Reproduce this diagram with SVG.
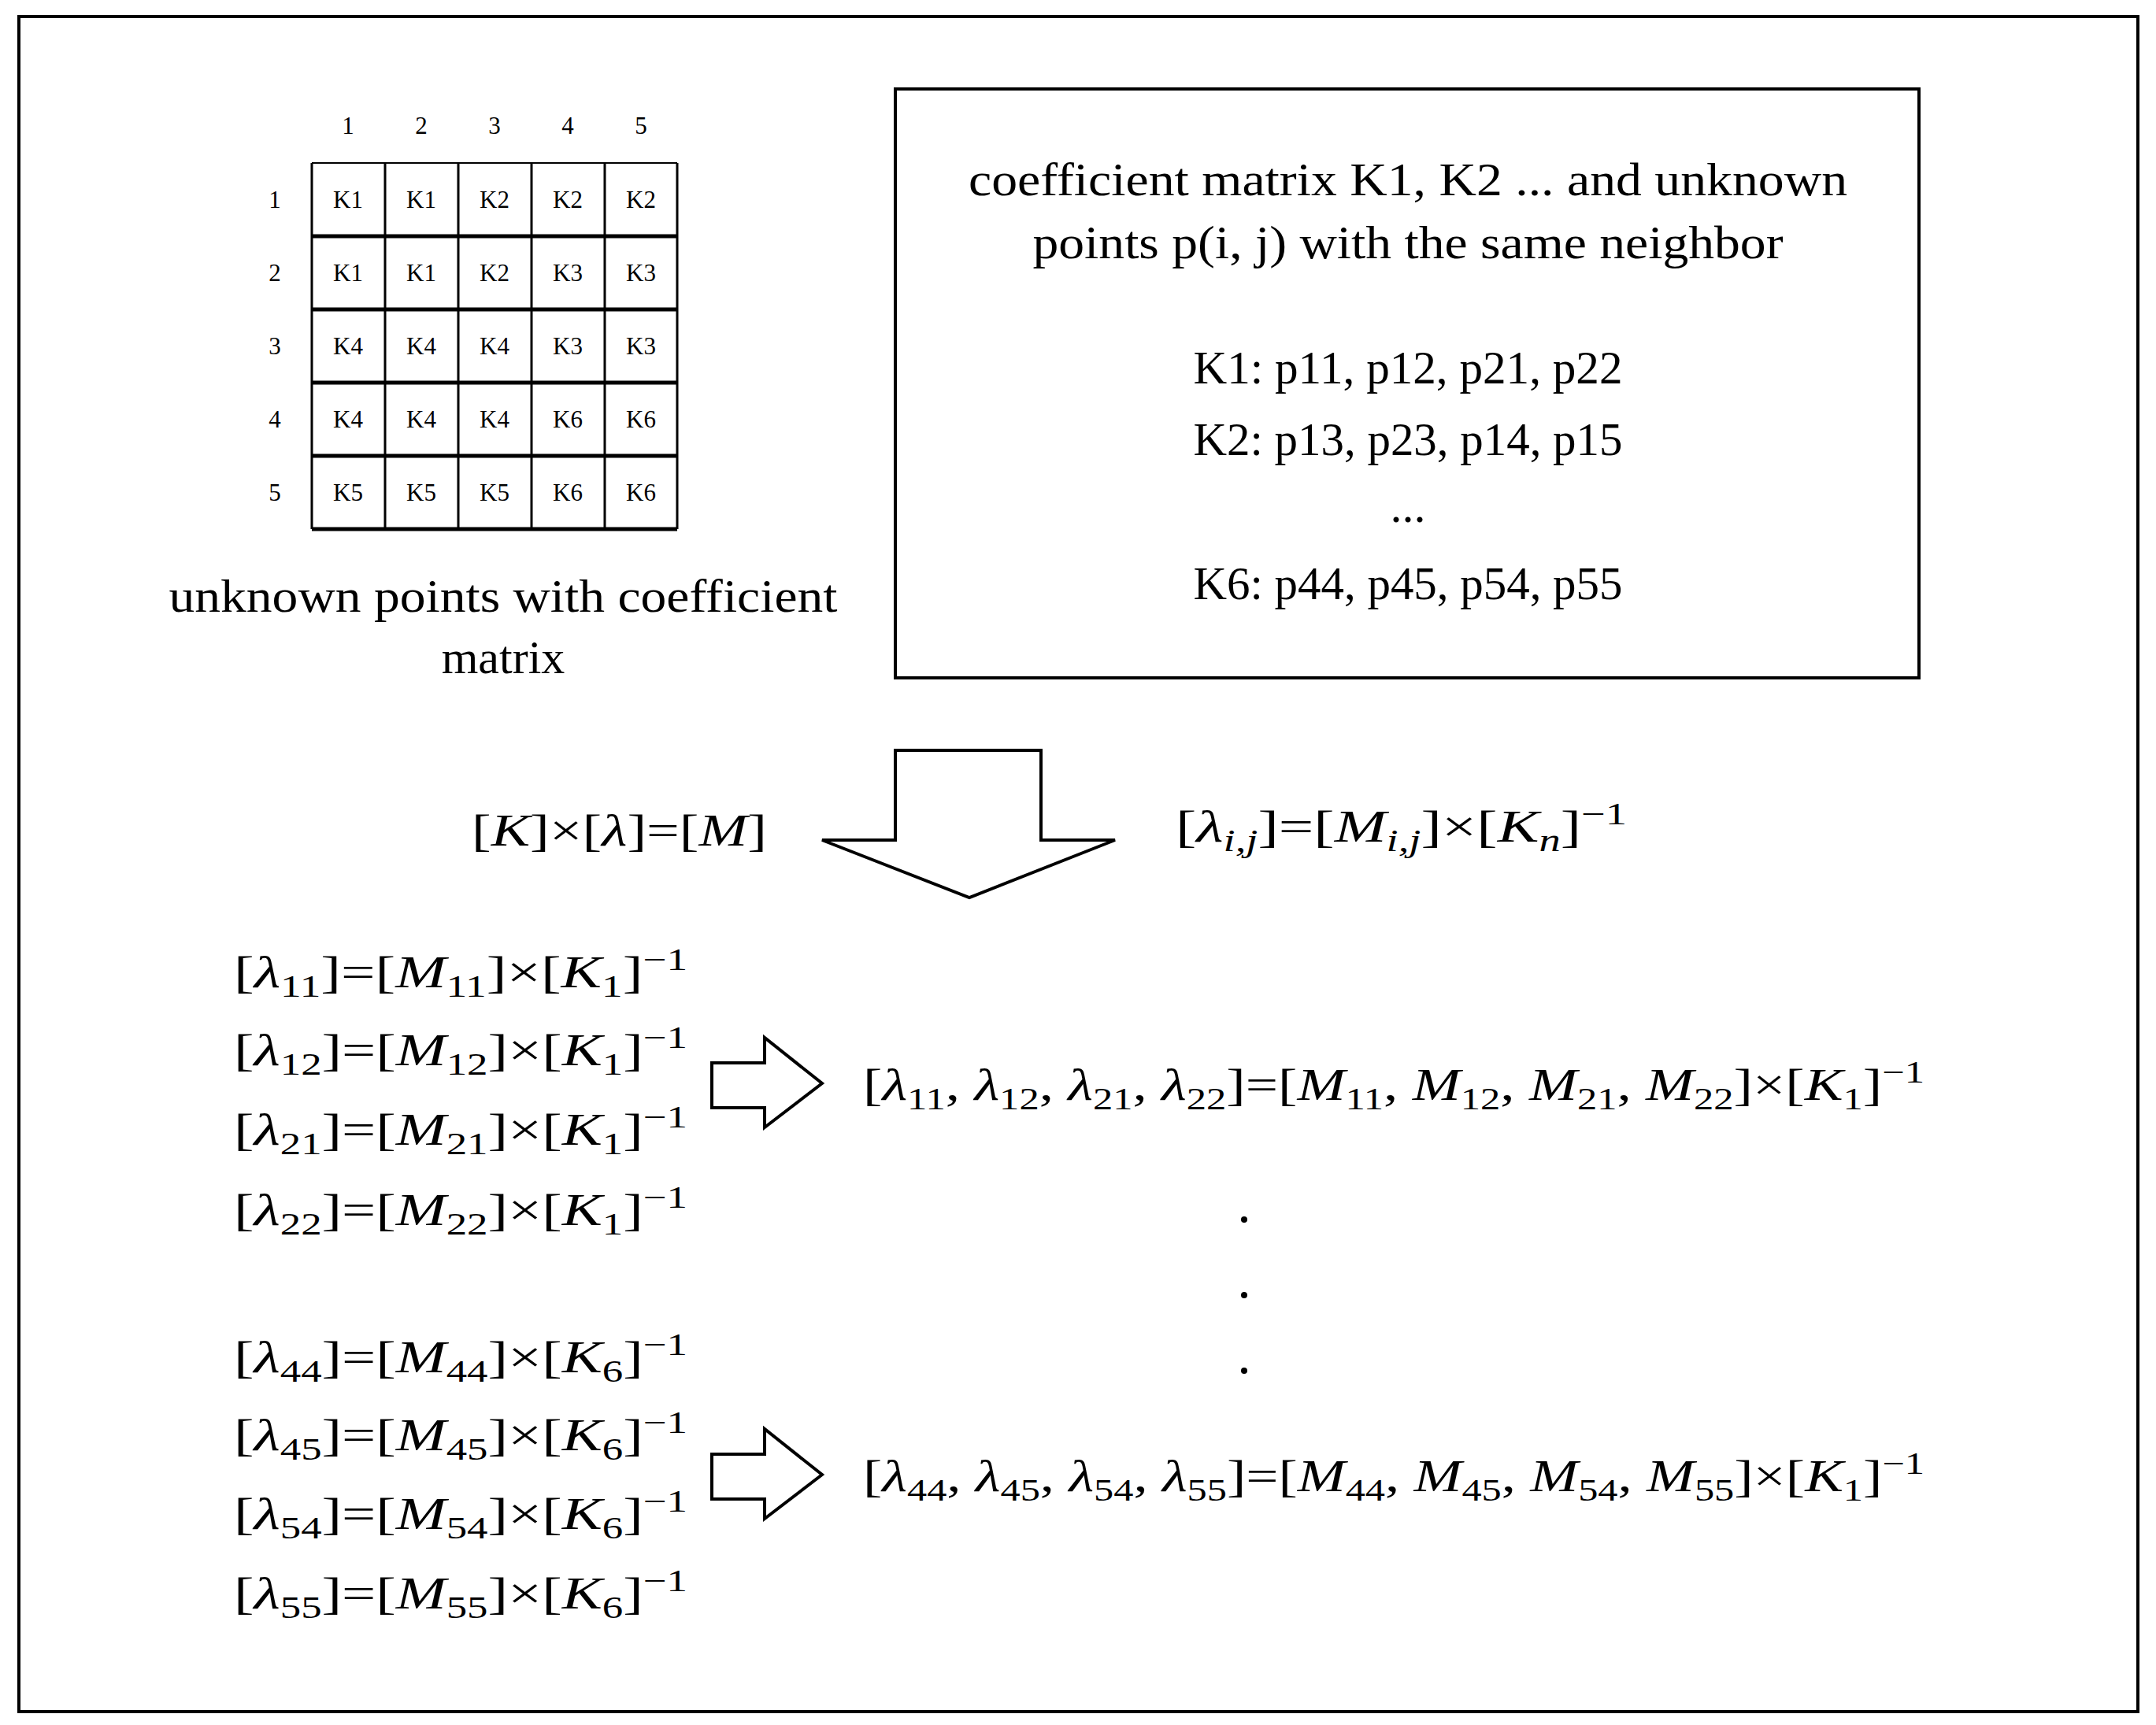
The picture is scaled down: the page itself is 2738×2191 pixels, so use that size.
<svg xmlns="http://www.w3.org/2000/svg" width="2738" height="2191" viewBox="0 0 2738 2191">
<style>
text{font-family:"Liberation Serif",serif;fill:#000}
.g{font-size:31px;text-anchor:middle}
.t{font-size:60px;text-anchor:middle}
.m{font-size:58px}
.i{font-style:italic}
.s{font-size:40px}
.ln{stroke:#000;fill:none}
</style>
<rect x="24" y="21" width="2691" height="2153" fill="#fff" stroke="#000" stroke-width="4"/>
<g id="grid">
<g class="ln" stroke-width="3">
<line x1="396" y1="207" x2="396" y2="672"/><line x1="489" y1="207" x2="489" y2="672"/><line x1="582" y1="207" x2="582" y2="672"/><line x1="675" y1="207" x2="675" y2="672"/><line x1="768" y1="207" x2="768" y2="672"/><line x1="860" y1="207" x2="860" y2="672"/>
<line x1="396" y1="207" x2="860" y2="207" stroke-width="2"/>
</g>
<g class="ln" stroke-width="5">
<line x1="396" y1="300" x2="860" y2="300"/><line x1="396" y1="393" x2="860" y2="393"/><line x1="396" y1="486" x2="860" y2="486"/><line x1="396" y1="579" x2="860" y2="579"/><line x1="396" y1="672" x2="860" y2="672"/>
</g>
<text class="g" x="442" y="170">1</text><text class="g" x="535" y="170">2</text><text class="g" x="628" y="170">3</text><text class="g" x="721" y="170">4</text><text class="g" x="814" y="170">5</text>
<text class="g" x="349" y="264">1</text><text class="g" x="349" y="357">2</text><text class="g" x="349" y="450">3</text><text class="g" x="349" y="543">4</text><text class="g" x="349" y="636">5</text>
<text class="g" x="442" y="264">K1</text><text class="g" x="535" y="264">K1</text><text class="g" x="628" y="264">K2</text><text class="g" x="721" y="264">K2</text><text class="g" x="814" y="264">K2</text>
<text class="g" x="442" y="357">K1</text><text class="g" x="535" y="357">K1</text><text class="g" x="628" y="357">K2</text><text class="g" x="721" y="357">K3</text><text class="g" x="814" y="357">K3</text>
<text class="g" x="442" y="450">K4</text><text class="g" x="535" y="450">K4</text><text class="g" x="628" y="450">K4</text><text class="g" x="721" y="450">K3</text><text class="g" x="814" y="450">K3</text>
<text class="g" x="442" y="543">K4</text><text class="g" x="535" y="543">K4</text><text class="g" x="628" y="543">K4</text><text class="g" x="721" y="543">K6</text><text class="g" x="814" y="543">K6</text>
<text class="g" x="442" y="636">K5</text><text class="g" x="535" y="636">K5</text><text class="g" x="628" y="636">K5</text><text class="g" x="721" y="636">K6</text><text class="g" x="814" y="636">K6</text>
<text class="t" x="639" y="777" textLength="849" lengthAdjust="spacingAndGlyphs">unknown points with coefficient</text>
<text class="t" x="639" y="855">matrix</text>
</g>
<g id="box">
<rect x="1137" y="113" width="1300" height="748" fill="none" stroke="#000" stroke-width="4"/>
<text class="t" x="1788" y="248" textLength="1116" lengthAdjust="spacingAndGlyphs">coefficient matrix K1, K2 ... and unknown</text>
<text class="t" x="1788" y="328" textLength="953" lengthAdjust="spacingAndGlyphs">points p(i, j) with the same neighbor</text>
<text class="t" x="1788" y="487" textLength="545" lengthAdjust="spacingAndGlyphs">K1: p11, p12, p21, p22</text>
<text class="t" x="1788" y="578" textLength="545" lengthAdjust="spacingAndGlyphs">K2: p13, p23, p14, p15</text>
<text class="t" x="1788" y="663">...</text>
<text class="t" x="1788" y="761" textLength="545" lengthAdjust="spacingAndGlyphs">K6: p44, p45, p54, p55</text>
</g>
<g id="connectors" fill="#fff" stroke="#000" stroke-width="4" stroke-linejoin="miter">
<polygon points="1137,953 1322,953 1322,1067 1416,1067 1231,1140 1044,1067 1137,1067"/>
<polygon points="904,1350 971,1350 971,1318 1044,1376 971,1432 971,1407 904,1407"/>
<polygon points="904,1847 971,1847 971,1815 1044,1873 971,1929 971,1904 904,1904"/>
</g>
<g id="equations">
<text class="m" x="599" y="1074" textLength="375" lengthAdjust="spacingAndGlyphs">[<tspan class="i">K</tspan>]×[<tspan class="i">λ</tspan>]=[<tspan class="i">M</tspan>]</text>
<text class="m" x="1493" y="1069" textLength="573" lengthAdjust="spacingAndGlyphs">[<tspan class="i">λ</tspan><tspan class="s i" dy="12">i,j</tspan><tspan dy="-12">]=[</tspan><tspan class="i">M</tspan><tspan class="s i" dy="12">i,j</tspan><tspan dy="-12">]×[</tspan><tspan class="i">K</tspan><tspan class="s i" dy="12">n</tspan><tspan dy="-12">]</tspan><tspan class="s" dy="-22">−1</tspan></text>

<text class="m" x="297" y="1254" textLength="576" lengthAdjust="spacingAndGlyphs">[<tspan class="i">λ</tspan><tspan class="s" dy="12">11</tspan><tspan dy="-12">]=[</tspan><tspan class="i">M</tspan><tspan class="s" dy="12">11</tspan><tspan dy="-12">]×[</tspan><tspan class="i">K</tspan><tspan class="s" dy="12">1</tspan><tspan dy="-12">]</tspan><tspan class="s" dy="-22">−1</tspan></text>
<text class="m" x="297" y="1353" textLength="576" lengthAdjust="spacingAndGlyphs">[<tspan class="i">λ</tspan><tspan class="s" dy="12">12</tspan><tspan dy="-12">]=[</tspan><tspan class="i">M</tspan><tspan class="s" dy="12">12</tspan><tspan dy="-12">]×[</tspan><tspan class="i">K</tspan><tspan class="s" dy="12">1</tspan><tspan dy="-12">]</tspan><tspan class="s" dy="-22">−1</tspan></text>
<text class="m" x="297" y="1454" textLength="576" lengthAdjust="spacingAndGlyphs">[<tspan class="i">λ</tspan><tspan class="s" dy="12">21</tspan><tspan dy="-12">]=[</tspan><tspan class="i">M</tspan><tspan class="s" dy="12">21</tspan><tspan dy="-12">]×[</tspan><tspan class="i">K</tspan><tspan class="s" dy="12">1</tspan><tspan dy="-12">]</tspan><tspan class="s" dy="-22">−1</tspan></text>
<text class="m" x="297" y="1556" textLength="576" lengthAdjust="spacingAndGlyphs">[<tspan class="i">λ</tspan><tspan class="s" dy="12">22</tspan><tspan dy="-12">]=[</tspan><tspan class="i">M</tspan><tspan class="s" dy="12">22</tspan><tspan dy="-12">]×[</tspan><tspan class="i">K</tspan><tspan class="s" dy="12">1</tspan><tspan dy="-12">]</tspan><tspan class="s" dy="-22">−1</tspan></text>

<text class="m" x="297" y="1743" textLength="576" lengthAdjust="spacingAndGlyphs">[<tspan class="i">λ</tspan><tspan class="s" dy="12">44</tspan><tspan dy="-12">]=[</tspan><tspan class="i">M</tspan><tspan class="s" dy="12">44</tspan><tspan dy="-12">]×[</tspan><tspan class="i">K</tspan><tspan class="s" dy="12">6</tspan><tspan dy="-12">]</tspan><tspan class="s" dy="-22">−1</tspan></text>
<text class="m" x="297" y="1842" textLength="576" lengthAdjust="spacingAndGlyphs">[<tspan class="i">λ</tspan><tspan class="s" dy="12">45</tspan><tspan dy="-12">]=[</tspan><tspan class="i">M</tspan><tspan class="s" dy="12">45</tspan><tspan dy="-12">]×[</tspan><tspan class="i">K</tspan><tspan class="s" dy="12">6</tspan><tspan dy="-12">]</tspan><tspan class="s" dy="-22">−1</tspan></text>
<text class="m" x="297" y="1942" textLength="576" lengthAdjust="spacingAndGlyphs">[<tspan class="i">λ</tspan><tspan class="s" dy="12">54</tspan><tspan dy="-12">]=[</tspan><tspan class="i">M</tspan><tspan class="s" dy="12">54</tspan><tspan dy="-12">]×[</tspan><tspan class="i">K</tspan><tspan class="s" dy="12">6</tspan><tspan dy="-12">]</tspan><tspan class="s" dy="-22">−1</tspan></text>
<text class="m" x="297" y="2043" textLength="576" lengthAdjust="spacingAndGlyphs">[<tspan class="i">λ</tspan><tspan class="s" dy="12">55</tspan><tspan dy="-12">]=[</tspan><tspan class="i">M</tspan><tspan class="s" dy="12">55</tspan><tspan dy="-12">]×[</tspan><tspan class="i">K</tspan><tspan class="s" dy="12">6</tspan><tspan dy="-12">]</tspan><tspan class="s" dy="-22">−1</tspan></text>

<text class="m" x="1096" y="1397" textLength="1348" lengthAdjust="spacingAndGlyphs">[<tspan class="i">λ</tspan><tspan class="s" dy="12">11</tspan><tspan dy="-12">, </tspan><tspan class="i">λ</tspan><tspan class="s" dy="12">12</tspan><tspan dy="-12">, </tspan><tspan class="i">λ</tspan><tspan class="s" dy="12">21</tspan><tspan dy="-12">, </tspan><tspan class="i">λ</tspan><tspan class="s" dy="12">22</tspan><tspan dy="-12">]=[</tspan><tspan class="i">M</tspan><tspan class="s" dy="12">11</tspan><tspan dy="-12">, </tspan><tspan class="i">M</tspan><tspan class="s" dy="12">12</tspan><tspan dy="-12">, </tspan><tspan class="i">M</tspan><tspan class="s" dy="12">21</tspan><tspan dy="-12">, </tspan><tspan class="i">M</tspan><tspan class="s" dy="12">22</tspan><tspan dy="-12">]×[</tspan><tspan class="i">K</tspan><tspan class="s" dy="12">1</tspan><tspan dy="-12">]</tspan><tspan class="s" dy="-22">−1</tspan></text>
<text class="m" x="1096" y="1894" textLength="1348" lengthAdjust="spacingAndGlyphs">[<tspan class="i">λ</tspan><tspan class="s" dy="12">44</tspan><tspan dy="-12">, </tspan><tspan class="i">λ</tspan><tspan class="s" dy="12">45</tspan><tspan dy="-12">, </tspan><tspan class="i">λ</tspan><tspan class="s" dy="12">54</tspan><tspan dy="-12">, </tspan><tspan class="i">λ</tspan><tspan class="s" dy="12">55</tspan><tspan dy="-12">]=[</tspan><tspan class="i">M</tspan><tspan class="s" dy="12">44</tspan><tspan dy="-12">, </tspan><tspan class="i">M</tspan><tspan class="s" dy="12">45</tspan><tspan dy="-12">, </tspan><tspan class="i">M</tspan><tspan class="s" dy="12">54</tspan><tspan dy="-12">, </tspan><tspan class="i">M</tspan><tspan class="s" dy="12">55</tspan><tspan dy="-12">]×[</tspan><tspan class="i">K</tspan><tspan class="s" dy="12">1</tspan><tspan dy="-12">]</tspan><tspan class="s" dy="-22">−1</tspan></text>
<circle cx="1580" cy="1549" r="4"/><circle cx="1580" cy="1645" r="4"/><circle cx="1580" cy="1741" r="4"/>
</g>
</svg>
